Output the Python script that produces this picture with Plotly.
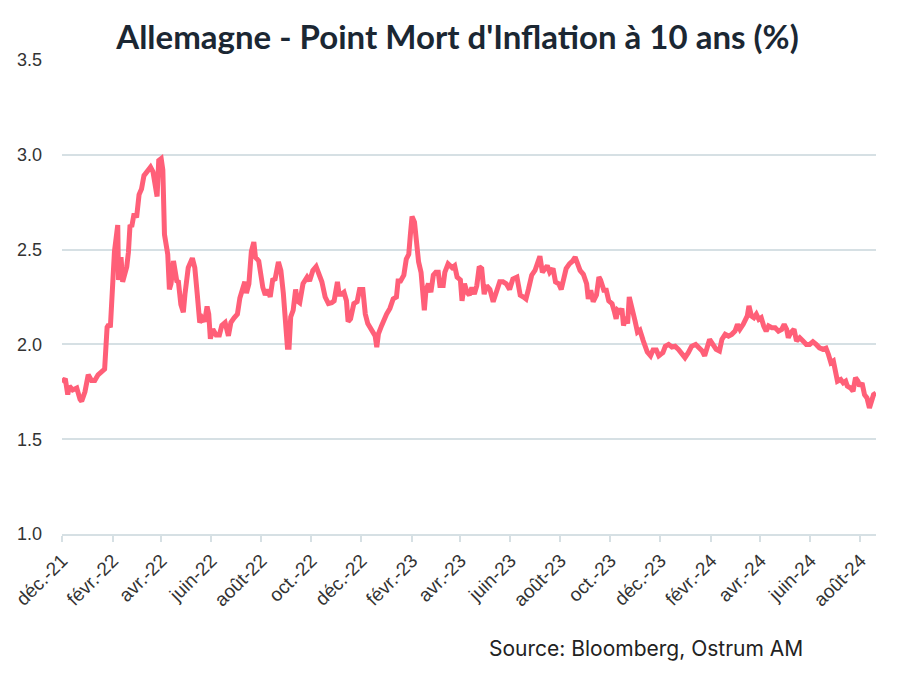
import plotly.graph_objects as go

dates = [
    "2021-12-01", "2021-12-05", "2021-12-08", "2021-12-10", "2021-12-14", "2021-12-19", "2021-12-23", "2021-12-25", "2021-12-29",
    "2022-01-02", "2022-01-06", "2022-01-10", "2022-01-14", "2022-01-18", "2022-01-22", "2022-01-25", "2022-01-27", "2022-01-29", "2022-01-31",
    "2022-02-03", "2022-02-07", "2022-02-08", "2022-02-11", "2022-02-13", "2022-02-18", "2022-02-20", "2022-02-22", "2022-02-24", "2022-02-27",
    "2022-03-02", "2022-03-05", "2022-03-08", "2022-03-11", "2022-03-15", "2022-03-19", "2022-03-22", "2022-03-25", "2022-03-27", "2022-03-29",
    "2022-04-01", "2022-04-03", "2022-04-05", "2022-04-09", "2022-04-11", "2022-04-13", "2022-04-16", "2022-04-20", "2022-04-22", "2022-04-25", "2022-04-28", "2022-04-30",
    "2022-05-04", "2022-05-09", "2022-05-12", "2022-05-15", "2022-05-18", "2022-05-21", "2022-05-24", "2022-05-27", "2022-05-29", "2022-05-31",
    "2022-06-03", "2022-06-07", "2022-06-11", "2022-06-14", "2022-06-18", "2022-06-22", "2022-06-25", "2022-06-29",
    "2022-07-03", "2022-07-06", "2022-07-09", "2022-07-12", "2022-07-14", "2022-07-17", "2022-07-20", "2022-07-23", "2022-07-25", "2022-07-29",
    "2022-08-03", "2022-08-06", "2022-08-09", "2022-08-12", "2022-08-15", "2022-08-18", "2022-08-22", "2022-08-25", "2022-08-28", "2022-08-31",
    "2022-09-02", "2022-09-04", "2022-09-06", "2022-09-09", "2022-09-12", "2022-09-14", "2022-09-17", "2022-09-21", "2022-09-24", "2022-09-26", "2022-09-29",
    "2022-10-03", "2022-10-07", "2022-10-10", "2022-10-14", "2022-10-18", "2022-10-22", "2022-10-26", "2022-10-29",
    "2022-11-02", "2022-11-04", "2022-11-07", "2022-11-10", "2022-11-13", "2022-11-15", "2022-11-18", "2022-11-22", "2022-11-26", "2022-11-29",
    "2022-12-03", "2022-12-06", "2022-12-09", "2022-12-13", "2022-12-16", "2022-12-18", "2022-12-20", "2022-12-22", "2022-12-26", "2022-12-29",
    "2023-01-01", "2023-01-05", "2023-01-09", "2023-01-13", "2023-01-15", "2023-01-18", "2023-01-22", "2023-01-25", "2023-01-28", "2023-01-30",
    "2023-02-01", "2023-02-04", "2023-02-06", "2023-02-09", "2023-02-12", "2023-02-14", "2023-02-16", "2023-02-18", "2023-02-21", "2023-02-24", "2023-02-27",
    "2023-03-02", "2023-03-05", "2023-03-07", "2023-03-11", "2023-03-13", "2023-03-17", "2023-03-22", "2023-03-25", "2023-03-28",
    "2023-04-01", "2023-04-03", "2023-04-06", "2023-04-09", "2023-04-12", "2023-04-15", "2023-04-18", "2023-04-21", "2023-04-24", "2023-04-27", "2023-04-30",
    "2023-05-03", "2023-05-07", "2023-05-11", "2023-05-15", "2023-05-19", "2023-05-23", "2023-05-27", "2023-05-31",
    "2023-06-04", "2023-06-09", "2023-06-13", "2023-06-17", "2023-06-20", "2023-06-23", "2023-06-27",
    "2023-07-01", "2023-07-05", "2023-07-07", "2023-07-10", "2023-07-13", "2023-07-16", "2023-07-19", "2023-07-23", "2023-07-26", "2023-07-30",
    "2023-08-02", "2023-08-05", "2023-08-08", "2023-08-12", "2023-08-16", "2023-08-19", "2023-08-22", "2023-08-25", "2023-08-29",
    "2023-09-02", "2023-09-04", "2023-09-07", "2023-09-10", "2023-09-14", "2023-09-17", "2023-09-19", "2023-09-23", "2023-09-26", "2023-09-29",
    "2023-10-03", "2023-10-06", "2023-10-08", "2023-10-10", "2023-10-13", "2023-10-15", "2023-10-17", "2023-10-20", "2023-10-22", "2023-10-24", "2023-10-26", "2023-10-29", "2023-10-31",
    "2023-11-03", "2023-11-06", "2023-11-10", "2023-11-13", "2023-11-15", "2023-11-19", "2023-11-22", "2023-11-26", "2023-11-29",
    "2023-12-01", "2023-12-04", "2023-12-07", "2023-12-11", "2023-12-15", "2023-12-19", "2023-12-23", "2023-12-27", "2023-12-31",
    "2024-01-04", "2024-01-08", "2024-01-13", "2024-01-17", "2024-01-21", "2024-01-24", "2024-01-27", "2024-01-30",
    "2024-02-03", "2024-02-07", "2024-02-11", "2024-02-14", "2024-02-18", "2024-02-22", "2024-02-26",
    "2024-03-01", "2024-03-04", "2024-03-07", "2024-03-11", "2024-03-14", "2024-03-16", "2024-03-18", "2024-03-21", "2024-03-24", "2024-03-27", "2024-03-30",
    "2024-04-02", "2024-04-05", "2024-04-08", "2024-04-11", "2024-04-15", "2024-04-19", "2024-04-23", "2024-04-27", "2024-04-30",
    "2024-05-03", "2024-05-05", "2024-05-08", "2024-05-12", "2024-05-15", "2024-05-19", "2024-05-23", "2024-05-27", "2024-05-31",
    "2024-06-04", "2024-06-08", "2024-06-12", "2024-06-16", "2024-06-20", "2024-06-23", "2024-06-26", "2024-06-29",
    "2024-07-01", "2024-07-04", "2024-07-08", "2024-07-11", "2024-07-14", "2024-07-16", "2024-07-20", "2024-07-23", "2024-07-26", "2024-07-29", "2024-07-31",
    "2024-08-03", "2024-08-06", "2024-08-09", "2024-08-12", "2024-08-14", "2024-08-17", "2024-08-20",
]

breakeven_10y = [
    1.80, 1.82, 1.735, 1.78, 1.76, 1.77, 1.71, 1.70, 1.75,
    1.84, 1.81, 1.81, 1.84, 1.855, 1.87, 2.09, 2.105, 2.09, 2.28,
    2.49, 2.63, 2.34, 2.46, 2.33, 2.41, 2.485, 2.63, 2.62, 2.69,
    2.67, 2.79, 2.82, 2.89, 2.91, 2.935, 2.91, 2.83, 2.78, 2.97,
    2.98, 2.92, 2.58, 2.475, 2.29, 2.32, 2.44, 2.335, 2.33, 2.21, 2.17, 2.265,
    2.405, 2.455, 2.405, 2.265, 2.115, 2.14, 2.12, 2.20, 2.16, 2.03,
    2.08, 2.05, 2.05, 2.10, 2.115, 2.045, 2.115, 2.14,
    2.16, 2.245, 2.28, 2.33, 2.27, 2.32, 2.49, 2.54, 2.46, 2.44,
    2.30, 2.26, 2.29, 2.25, 2.34, 2.345, 2.435, 2.39, 2.27, 2.09,
    1.985, 1.985, 2.145, 2.18, 2.29, 2.23, 2.22, 2.32, 2.335, 2.355, 2.335,
    2.39, 2.41, 2.38, 2.33, 2.25, 2.215, 2.22, 2.23,
    2.33, 2.265, 2.265, 2.275, 2.23, 2.12, 2.135, 2.215, 2.225, 2.29,
    2.29, 2.16, 2.11, 2.08, 2.065, 2.045, 1.985, 2.055, 2.10, 2.135,
    2.16, 2.19, 2.24, 2.25, 2.335, 2.335, 2.365, 2.45, 2.475, 2.58,
    2.675, 2.645, 2.53, 2.435, 2.38, 2.23, 2.18, 2.285, 2.32, 2.275, 2.365,
    2.38, 2.38, 2.31, 2.31, 2.38, 2.425, 2.405, 2.415, 2.355,
    2.34, 2.23, 2.32, 2.275, 2.26, 2.30, 2.265, 2.31, 2.41, 2.40, 2.265,
    2.31, 2.29, 2.225, 2.285, 2.33, 2.33, 2.32, 2.29,
    2.345, 2.355, 2.26, 2.25, 2.24, 2.29, 2.365,
    2.39, 2.435, 2.465, 2.38, 2.40, 2.415, 2.38, 2.40, 2.33, 2.32,
    2.29, 2.345, 2.40, 2.425, 2.44, 2.46, 2.43, 2.39, 2.37,
    2.32, 2.24, 2.285, 2.225, 2.26, 2.355, 2.34, 2.285, 2.285, 2.23,
    2.215, 2.17, 2.135, 2.18, 2.17, 2.19, 2.10, 2.145, 2.11, 2.25, 2.205, 2.155, 2.125,
    2.065, 2.075, 2.02, 1.985, 1.96, 1.94, 1.97, 1.97, 1.94,
    1.947, 1.956, 1.99, 2.0, 1.986, 1.99, 1.974, 1.956, 1.93,
    1.956, 1.99, 2.0, 1.982, 1.965, 1.94, 1.982, 2.026,
    2.0, 1.974, 1.965, 2.026, 2.053, 2.044, 2.053,
    2.07, 2.106, 2.08, 2.106, 2.141, 2.15, 2.203, 2.15, 2.141, 2.159, 2.132,
    2.141, 2.097, 2.07, 2.097, 2.088, 2.088, 2.07, 2.079, 2.106,
    2.08, 2.035, 2.062, 2.08, 2.018, 2.035, 2.018, 2.0, 2.0,
    2.014, 2.0, 1.982, 1.974, 1.98, 1.947, 1.903, 1.912,
    1.859, 1.806, 1.815, 1.797, 1.806, 1.78, 1.77, 1.753, 1.824, 1.806, 1.78,
    1.797, 1.735, 1.718, 1.665, 1.70, 1.735, 1.744,
]

tick_dates = [
    "2021-12-01", "2022-02-01", "2022-04-01", "2022-06-01", "2022-08-01", "2022-10-01",
    "2022-12-01", "2023-02-01", "2023-04-01", "2023-06-01", "2023-08-01", "2023-10-01",
    "2023-12-01", "2024-02-01", "2024-04-01", "2024-06-01", "2024-08-01",
]
tick_labels = [
    "déc.-21", "févr.-22", "avr.-22", "juin-22", "août-22", "oct.-22",
    "déc.-22", "févr.-23", "avr.-23", "juin-23", "août-23", "oct.-23",
    "déc.-23", "févr.-24", "avr.-24", "juin-24", "août-24",
]

title_text = "Allemagne - Point Mort d'Inflation à 10 ans (%)"
source_text = "Source: Bloomberg, Ostrum AM"

grid_col = "#d6e0e4"

fig = go.Figure()
fig.add_trace(go.Scatter(
    x=dates, y=breakeven_10y, mode="lines",
    line=dict(color="#ff5f78", width=5),
    showlegend=False, hoverinfo="x+y",
))

fig.update_layout(
    width=917, height=686,
    paper_bgcolor="white", plot_bgcolor="white",
    margin=dict(l=54, r=49, t=52, b=160, autoexpand=False),
    title=dict(
        text=title_text, x=(457.5 - 8) / 917, xanchor="center", y=1 - 29 / 686, yanchor="middle",
        yref="container",
        font=dict(family="Lato, sans-serif", size=33, color="#1b2733", weight="bold"),
    ),
    xaxis=dict(
        type="date", range=["2021-12-01", "2024-08-20"],
        tickmode="array", tickvals=tick_dates, ticktext=tick_labels,
        tickangle=-45, showgrid=False, automargin=False,
        showline=True, linecolor=grid_col, linewidth=2,
        ticks="outside", ticklen=6, tickwidth=2, tickcolor=grid_col,
        tickfont=dict(family="Liberation Sans, Arial, sans-serif", size=19, color="#333333"),
        zeroline=False,
    ),
    yaxis=dict(
        range=[1.0, 3.5], dtick=0.5, tick0=1.0, tickformat=".1f",
        showgrid=True, gridcolor=grid_col, gridwidth=2,
        zeroline=False, showline=False, ticks="", automargin=False,
        ticklabelstandoff=19,
        tickfont=dict(family="Liberation Sans, Arial, sans-serif", size=18, color="#333333"),
    ),
    annotations=[dict(
        text=source_text, xref="paper", yref="paper",
        x=(805 - 62) / 814, y=(534 - 648) / 474,
        xanchor="right", yanchor="middle", showarrow=False,
        font=dict(family="Inter, Roboto, sans-serif", size=21, color="#222222"),
    )],
)

fig.write_html("out.html")
